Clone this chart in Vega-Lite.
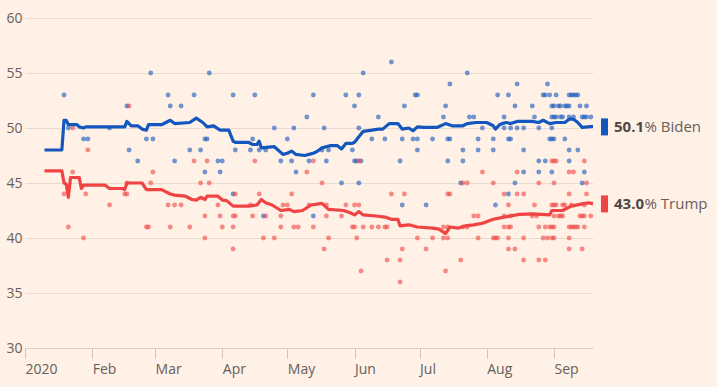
{
  "$schema": "https://vega.github.io/schema/vega-lite/v6.json",
  "width": 568,
  "height": 330,
  "autosize": {"type": "none"},
  "padding": {"left": 25, "top": 18, "right": 124, "bottom": 39},
  "background": "#FFF1E5",
  "config": {
    "view": {"stroke": null},
    "font": "Open Sans",
    "axis": {"labelFont": "Open Sans", "labelFontSize": 14, "labelColor": "#66605c", "gridColor": "#e8dbcf", "domain": false, "ticks": false, "title": null}
  },
  "datasets": {
    "polls": [
      {"date":"2020-01-19","candidate":"Biden","value":53},{"date":"2020-01-21","candidate":"Biden","value":50},{"date":"2020-02-09","candidate":"Biden","value":50},{"date":"2020-01-28","candidate":"Biden","value":49},{"date":"2020-01-30","candidate":"Biden","value":49},
      {"date":"2020-02-28","candidate":"Biden","value":55},{"date":"2020-03-26","candidate":"Biden","value":55},{"date":"2020-03-07","candidate":"Biden","value":53},{"date":"2020-03-19","candidate":"Biden","value":53},{"date":"2020-02-17","candidate":"Biden","value":52},
      {"date":"2020-03-08","candidate":"Biden","value":52},{"date":"2020-03-13","candidate":"Biden","value":52},{"date":"2020-02-26","candidate":"Biden","value":49},{"date":"2020-02-29","candidate":"Biden","value":49},{"date":"2020-03-24","candidate":"Biden","value":49},
      {"date":"2020-03-25","candidate":"Biden","value":49},{"date":"2020-02-18","candidate":"Biden","value":48},{"date":"2020-03-17","candidate":"Biden","value":48},{"date":"2020-03-22","candidate":"Biden","value":48},{"date":"2020-02-22","candidate":"Biden","value":47},
      {"date":"2020-03-10","candidate":"Biden","value":47},{"date":"2020-03-30","candidate":"Biden","value":47},{"date":"2020-03-24","candidate":"Biden","value":46},{"date":"2020-03-31","candidate":"Biden","value":46},{"date":"2020-04-06","candidate":"Biden","value":53},
      {"date":"2020-04-16","candidate":"Biden","value":53},{"date":"2020-05-13","candidate":"Biden","value":53},{"date":"2020-05-10","candidate":"Biden","value":51},{"date":"2020-04-25","candidate":"Biden","value":50},{"date":"2020-05-04","candidate":"Biden","value":50},
      {"date":"2020-04-15","candidate":"Biden","value":49},{"date":"2020-05-01","candidate":"Biden","value":49},{"date":"2020-04-07","candidate":"Biden","value":48},{"date":"2020-04-14","candidate":"Biden","value":48},{"date":"2020-04-18","candidate":"Biden","value":48},
      {"date":"2020-04-21","candidate":"Biden","value":48},{"date":"2020-04-01","candidate":"Biden","value":47},{"date":"2020-04-28","candidate":"Biden","value":47},{"date":"2020-05-03","candidate":"Biden","value":47},{"date":"2020-05-05","candidate":"Biden","value":46},
      {"date":"2020-04-06","candidate":"Biden","value":44},{"date":"2020-04-20","candidate":"Biden","value":42},{"date":"2020-06-18","candidate":"Biden","value":56},{"date":"2020-06-05","candidate":"Biden","value":55},{"date":"2020-05-28","candidate":"Biden","value":53},
      {"date":"2020-06-03","candidate":"Biden","value":53},{"date":"2020-06-01","candidate":"Biden","value":52},{"date":"2020-06-24","candidate":"Biden","value":52},{"date":"2020-06-12","candidate":"Biden","value":51},{"date":"2020-05-18","candidate":"Biden","value":50},
      {"date":"2020-06-03","candidate":"Biden","value":50},{"date":"2020-06-09","candidate":"Biden","value":49},{"date":"2020-06-15","candidate":"Biden","value":49},{"date":"2020-06-23","candidate":"Biden","value":49},{"date":"2020-05-17","candidate":"Biden","value":48},
      {"date":"2020-05-20","candidate":"Biden","value":48},{"date":"2020-05-31","candidate":"Biden","value":48},{"date":"2020-05-11","candidate":"Biden","value":47},{"date":"2020-05-19","candidate":"Biden","value":47},{"date":"2020-06-01","candidate":"Biden","value":47},
      {"date":"2020-06-02","candidate":"Biden","value":47},{"date":"2020-06-04","candidate":"Biden","value":47},{"date":"2020-06-22","candidate":"Biden","value":47},{"date":"2020-05-26","candidate":"Biden","value":45},{"date":"2020-06-03","candidate":"Biden","value":45},
      {"date":"2020-06-23","candidate":"Biden","value":43},{"date":"2020-05-13","candidate":"Biden","value":42},{"date":"2020-07-23","candidate":"Biden","value":55},{"date":"2020-07-15","candidate":"Biden","value":54},{"date":"2020-06-29","candidate":"Biden","value":53},
      {"date":"2020-06-30","candidate":"Biden","value":53},{"date":"2020-08-06","candidate":"Biden","value":53},{"date":"2020-07-13","candidate":"Biden","value":52},{"date":"2020-07-12","candidate":"Biden","value":51},{"date":"2020-07-24","candidate":"Biden","value":51},
      {"date":"2020-07-26","candidate":"Biden","value":51},{"date":"2020-07-30","candidate":"Biden","value":50},{"date":"2020-06-28","candidate":"Biden","value":49},{"date":"2020-06-30","candidate":"Biden","value":49},{"date":"2020-07-07","candidate":"Biden","value":49},
      {"date":"2020-07-14","candidate":"Biden","value":49},{"date":"2020-07-15","candidate":"Biden","value":49},{"date":"2020-07-28","candidate":"Biden","value":49},{"date":"2020-08-04","candidate":"Biden","value":49},{"date":"2020-06-30","candidate":"Biden","value":48},
      {"date":"2020-07-21","candidate":"Biden","value":48},{"date":"2020-07-28","candidate":"Biden","value":48},{"date":"2020-08-04","candidate":"Biden","value":48},{"date":"2020-07-14","candidate":"Biden","value":47},{"date":"2020-07-21","candidate":"Biden","value":47},
      {"date":"2020-07-20","candidate":"Biden","value":45},{"date":"2020-07-04","candidate":"Biden","value":43},{"date":"2020-08-05","candidate":"Biden","value":43},{"date":"2020-08-15","candidate":"Biden","value":54},{"date":"2020-08-29","candidate":"Biden","value":54},
      {"date":"2020-08-11","candidate":"Biden","value":53},{"date":"2020-08-27","candidate":"Biden","value":53},{"date":"2020-08-28","candidate":"Biden","value":53},{"date":"2020-08-30","candidate":"Biden","value":53},{"date":"2020-09-02","candidate":"Biden","value":53},
      {"date":"2020-09-08","candidate":"Biden","value":53},{"date":"2020-09-09","candidate":"Biden","value":53},{"date":"2020-09-10","candidate":"Biden","value":53},{"date":"2020-09-11","candidate":"Biden","value":53},{"date":"2020-09-12","candidate":"Biden","value":53},
      {"date":"2020-08-14","candidate":"Biden","value":52},{"date":"2020-08-22","candidate":"Biden","value":52},{"date":"2020-08-31","candidate":"Biden","value":52},{"date":"2020-09-01","candidate":"Biden","value":52},{"date":"2020-09-03","candidate":"Biden","value":52},
      {"date":"2020-09-04","candidate":"Biden","value":52},{"date":"2020-09-06","candidate":"Biden","value":52},{"date":"2020-09-07","candidate":"Biden","value":52},{"date":"2020-09-08","candidate":"Biden","value":52},{"date":"2020-09-13","candidate":"Biden","value":52},
      {"date":"2020-09-16","candidate":"Biden","value":52},{"date":"2020-08-09","candidate":"Biden","value":51},{"date":"2020-08-23","candidate":"Biden","value":51},{"date":"2020-08-31","candidate":"Biden","value":51},{"date":"2020-09-01","candidate":"Biden","value":51},
      {"date":"2020-09-02","candidate":"Biden","value":51},{"date":"2020-09-04","candidate":"Biden","value":51},{"date":"2020-09-05","candidate":"Biden","value":51},{"date":"2020-09-08","candidate":"Biden","value":51},{"date":"2020-09-10","candidate":"Biden","value":51},
      {"date":"2020-09-14","candidate":"Biden","value":51},{"date":"2020-09-15","candidate":"Biden","value":51},{"date":"2020-09-16","candidate":"Biden","value":51},{"date":"2020-09-18","candidate":"Biden","value":51},{"date":"2020-08-09","candidate":"Biden","value":50},
      {"date":"2020-08-12","candidate":"Biden","value":50},{"date":"2020-08-15","candidate":"Biden","value":50},{"date":"2020-08-18","candidate":"Biden","value":50},{"date":"2020-08-25","candidate":"Biden","value":50},{"date":"2020-08-31","candidate":"Biden","value":50},
      {"date":"2020-08-11","candidate":"Biden","value":49},{"date":"2020-08-12","candidate":"Biden","value":49},{"date":"2020-08-30","candidate":"Biden","value":49},{"date":"2020-08-31","candidate":"Biden","value":49},{"date":"2020-09-01","candidate":"Biden","value":49},
      {"date":"2020-09-06","candidate":"Biden","value":49},{"date":"2020-08-18","candidate":"Biden","value":48},{"date":"2020-09-08","candidate":"Biden","value":48},{"date":"2020-09-12","candidate":"Biden","value":48},{"date":"2020-08-25","candidate":"Biden","value":47},
      {"date":"2020-08-28","candidate":"Biden","value":47},{"date":"2020-09-08","candidate":"Biden","value":47},{"date":"2020-08-18","candidate":"Biden","value":46},{"date":"2020-08-25","candidate":"Biden","value":46},{"date":"2020-08-31","candidate":"Biden","value":46},
      {"date":"2020-09-15","candidate":"Biden","value":46},{"date":"2020-08-14","candidate":"Biden","value":45},{"date":"2020-09-14","candidate":"Biden","value":45},{"date":"2020-08-11","candidate":"Biden","value":44},
      {"date":"2020-01-23","candidate":"Trump","value":50},{"date":"2020-01-30","candidate":"Trump","value":48},{"date":"2020-01-23","candidate":"Trump","value":46},{"date":"2020-01-19","candidate":"Trump","value":44},{"date":"2020-01-29","candidate":"Trump","value":44},
      {"date":"2020-02-09","candidate":"Trump","value":43},{"date":"2020-01-21","candidate":"Trump","value":41},{"date":"2020-01-28","candidate":"Trump","value":40},{"date":"2020-02-18","candidate":"Trump","value":52},{"date":"2020-03-19","candidate":"Trump","value":47},
      {"date":"2020-03-25","candidate":"Trump","value":47},{"date":"2020-02-29","candidate":"Trump","value":46},{"date":"2020-02-17","candidate":"Trump","value":45},{"date":"2020-02-28","candidate":"Trump","value":45},{"date":"2020-03-22","candidate":"Trump","value":45},
      {"date":"2020-03-26","candidate":"Trump","value":45},{"date":"2020-02-16","candidate":"Trump","value":44},{"date":"2020-02-17","candidate":"Trump","value":44},{"date":"2020-03-07","candidate":"Trump","value":43},{"date":"2020-03-10","candidate":"Trump","value":43},
      {"date":"2020-03-13","candidate":"Trump","value":43},{"date":"2020-03-24","candidate":"Trump","value":42},{"date":"2020-02-26","candidate":"Trump","value":41},{"date":"2020-02-27","candidate":"Trump","value":41},{"date":"2020-03-08","candidate":"Trump","value":41},
      {"date":"2020-03-17","candidate":"Trump","value":41},{"date":"2020-03-24","candidate":"Trump","value":40},{"date":"2020-04-16","candidate":"Trump","value":47},{"date":"2020-05-10","candidate":"Trump","value":46},{"date":"2020-04-07","candidate":"Trump","value":44},
      {"date":"2020-04-18","candidate":"Trump","value":44},{"date":"2020-05-03","candidate":"Trump","value":44},{"date":"2020-03-30","candidate":"Trump","value":43},{"date":"2020-04-14","candidate":"Trump","value":43},{"date":"2020-04-29","candidate":"Trump","value":43},
      {"date":"2020-05-01","candidate":"Trump","value":43},{"date":"2020-03-31","candidate":"Trump","value":42},{"date":"2020-04-06","candidate":"Trump","value":42},{"date":"2020-04-07","candidate":"Trump","value":42},{"date":"2020-04-15","candidate":"Trump","value":42},
      {"date":"2020-04-21","candidate":"Trump","value":42},{"date":"2020-04-28","candidate":"Trump","value":42},{"date":"2020-04-01","candidate":"Trump","value":41},{"date":"2020-04-06","candidate":"Trump","value":41},{"date":"2020-04-28","candidate":"Trump","value":41},
      {"date":"2020-05-04","candidate":"Trump","value":41},{"date":"2020-05-06","candidate":"Trump","value":41},{"date":"2020-04-20","candidate":"Trump","value":40},{"date":"2020-04-25","candidate":"Trump","value":40},{"date":"2020-04-06","candidate":"Trump","value":39},
      {"date":"2020-05-13","candidate":"Trump","value":47},{"date":"2020-06-03","candidate":"Trump","value":47},{"date":"2020-05-17","candidate":"Trump","value":45},{"date":"2020-06-18","candidate":"Trump","value":44},{"date":"2020-06-24","candidate":"Trump","value":44},
      {"date":"2020-05-11","candidate":"Trump","value":43},{"date":"2020-05-19","candidate":"Trump","value":43},{"date":"2020-05-28","candidate":"Trump","value":43},{"date":"2020-06-01","candidate":"Trump","value":43},{"date":"2020-06-03","candidate":"Trump","value":43},
      {"date":"2020-05-19","candidate":"Trump","value":42},{"date":"2020-05-26","candidate":"Trump","value":42},{"date":"2020-05-13","candidate":"Trump","value":41},{"date":"2020-05-31","candidate":"Trump","value":41},{"date":"2020-06-01","candidate":"Trump","value":41},
      {"date":"2020-06-05","candidate":"Trump","value":41},{"date":"2020-06-09","candidate":"Trump","value":41},{"date":"2020-06-12","candidate":"Trump","value":41},{"date":"2020-06-15","candidate":"Trump","value":41},{"date":"2020-06-16","candidate":"Trump","value":41},
      {"date":"2020-05-20","candidate":"Trump","value":40},{"date":"2020-06-02","candidate":"Trump","value":40},{"date":"2020-05-18","candidate":"Trump","value":39},{"date":"2020-06-23","candidate":"Trump","value":39},{"date":"2020-06-16","candidate":"Trump","value":38},
      {"date":"2020-06-22","candidate":"Trump","value":38},{"date":"2020-06-04","candidate":"Trump","value":37},{"date":"2020-06-22","candidate":"Trump","value":36},{"date":"2020-07-30","candidate":"Trump","value":46},{"date":"2020-07-21","candidate":"Trump","value":45},
      {"date":"2020-07-23","candidate":"Trump","value":45},{"date":"2020-08-04","candidate":"Trump","value":45},{"date":"2020-07-14","candidate":"Trump","value":44},{"date":"2020-07-15","candidate":"Trump","value":44},{"date":"2020-08-09","candidate":"Trump","value":44},
      {"date":"2020-07-26","candidate":"Trump","value":42},{"date":"2020-07-28","candidate":"Trump","value":42},{"date":"2020-07-12","candidate":"Trump","value":41},{"date":"2020-07-14","candidate":"Trump","value":41},{"date":"2020-07-21","candidate":"Trump","value":41},
      {"date":"2020-07-23","candidate":"Trump","value":41},{"date":"2020-08-09","candidate":"Trump","value":41},{"date":"2020-06-30","candidate":"Trump","value":40},{"date":"2020-07-07","candidate":"Trump","value":40},{"date":"2020-07-12","candidate":"Trump","value":40},
      {"date":"2020-07-14","candidate":"Trump","value":40},{"date":"2020-07-28","candidate":"Trump","value":40},{"date":"2020-08-04","candidate":"Trump","value":40},{"date":"2020-08-05","candidate":"Trump","value":40},{"date":"2020-08-06","candidate":"Trump","value":40},
      {"date":"2020-07-04","candidate":"Trump","value":39},{"date":"2020-07-20","candidate":"Trump","value":38},{"date":"2020-07-13","candidate":"Trump","value":37},{"date":"2020-08-31","candidate":"Trump","value":47},{"date":"2020-09-01","candidate":"Trump","value":47},
      {"date":"2020-09-02","candidate":"Trump","value":47},{"date":"2020-09-15","candidate":"Trump","value":47},{"date":"2020-08-15","candidate":"Trump","value":46},{"date":"2020-09-08","candidate":"Trump","value":46},{"date":"2020-09-10","candidate":"Trump","value":46},
      {"date":"2020-08-25","candidate":"Trump","value":45},{"date":"2020-09-01","candidate":"Trump","value":45},{"date":"2020-09-16","candidate":"Trump","value":45},{"date":"2020-08-15","candidate":"Trump","value":44},{"date":"2020-08-18","candidate":"Trump","value":44},
      {"date":"2020-09-08","candidate":"Trump","value":44},{"date":"2020-09-16","candidate":"Trump","value":44},{"date":"2020-08-11","candidate":"Trump","value":43},{"date":"2020-08-23","candidate":"Trump","value":43},{"date":"2020-08-31","candidate":"Trump","value":43},
      {"date":"2020-09-01","candidate":"Trump","value":43},{"date":"2020-09-02","candidate":"Trump","value":43},{"date":"2020-09-05","candidate":"Trump","value":43},{"date":"2020-09-06","candidate":"Trump","value":43},{"date":"2020-09-09","candidate":"Trump","value":43},
      {"date":"2020-09-15","candidate":"Trump","value":43},{"date":"2020-08-09","candidate":"Trump","value":42},{"date":"2020-08-12","candidate":"Trump","value":42},{"date":"2020-08-22","candidate":"Trump","value":42},{"date":"2020-08-24","candidate":"Trump","value":42},
      {"date":"2020-09-01","candidate":"Trump","value":42},{"date":"2020-09-03","candidate":"Trump","value":42},{"date":"2020-09-04","candidate":"Trump","value":42},{"date":"2020-09-05","candidate":"Trump","value":42},{"date":"2020-09-13","candidate":"Trump","value":42},
      {"date":"2020-09-14","candidate":"Trump","value":42},{"date":"2020-09-15","candidate":"Trump","value":42},{"date":"2020-09-18","candidate":"Trump","value":42},{"date":"2020-08-11","candidate":"Trump","value":41},{"date":"2020-08-12","candidate":"Trump","value":41},
      {"date":"2020-08-25","candidate":"Trump","value":41},{"date":"2020-08-28","candidate":"Trump","value":41},{"date":"2020-08-30","candidate":"Trump","value":41},{"date":"2020-08-31","candidate":"Trump","value":41},{"date":"2020-09-01","candidate":"Trump","value":41},
      {"date":"2020-09-08","candidate":"Trump","value":41},{"date":"2020-09-09","candidate":"Trump","value":41},{"date":"2020-09-10","candidate":"Trump","value":41},{"date":"2020-09-11","candidate":"Trump","value":41},{"date":"2020-09-12","candidate":"Trump","value":41},
      {"date":"2020-09-15","candidate":"Trump","value":41},{"date":"2020-08-11","candidate":"Trump","value":40},{"date":"2020-08-18","candidate":"Trump","value":40},{"date":"2020-08-27","candidate":"Trump","value":40},{"date":"2020-08-29","candidate":"Trump","value":40},
      {"date":"2020-08-31","candidate":"Trump","value":40},{"date":"2020-09-01","candidate":"Trump","value":40},{"date":"2020-09-08","candidate":"Trump","value":40},{"date":"2020-08-11","candidate":"Trump","value":39},{"date":"2020-08-14","candidate":"Trump","value":39},
      {"date":"2020-09-08","candidate":"Trump","value":39},{"date":"2020-09-14","candidate":"Trump","value":39},{"date":"2020-08-18","candidate":"Trump","value":38},{"date":"2020-08-25","candidate":"Trump","value":38},{"date":"2020-08-28","candidate":"Trump","value":38}
    ],
    "avg": [
      {"date":"2020-01-10","candidate":"Biden","value":48.0},{"date":"2020-01-18","candidate":"Biden","value":48.0},{"date":"2020-01-19","candidate":"Biden","value":50.7},{"date":"2020-01-20","candidate":"Biden","value":50.7},{"date":"2020-01-21","candidate":"Biden","value":50.3},
      {"date":"2020-01-25","candidate":"Biden","value":50.3},{"date":"2020-01-26","candidate":"Biden","value":50.1},{"date":"2020-01-28","candidate":"Biden","value":50.0},{"date":"2020-01-29","candidate":"Biden","value":50.1},{"date":"2020-02-16","candidate":"Biden","value":50.1},
      {"date":"2020-02-17","candidate":"Biden","value":50.6},{"date":"2020-02-19","candidate":"Biden","value":50.2},{"date":"2020-02-22","candidate":"Biden","value":50.2},{"date":"2020-02-24","candidate":"Biden","value":49.9},{"date":"2020-02-26","candidate":"Biden","value":49.8},
      {"date":"2020-02-27","candidate":"Biden","value":50.3},{"date":"2020-03-04","candidate":"Biden","value":50.3},{"date":"2020-03-08","candidate":"Biden","value":50.7},{"date":"2020-03-10","candidate":"Biden","value":50.4},{"date":"2020-03-17","candidate":"Biden","value":50.5},
      {"date":"2020-03-20","candidate":"Biden","value":50.9},{"date":"2020-03-23","candidate":"Biden","value":50.5},{"date":"2020-03-25","candidate":"Biden","value":50.1},{"date":"2020-03-28","candidate":"Biden","value":50.2},{"date":"2020-03-31","candidate":"Biden","value":49.8},
      {"date":"2020-04-04","candidate":"Biden","value":49.8},{"date":"2020-04-06","candidate":"Biden","value":48.8},{"date":"2020-04-07","candidate":"Biden","value":48.7},{"date":"2020-04-13","candidate":"Biden","value":48.7},{"date":"2020-04-15","candidate":"Biden","value":48.5},
      {"date":"2020-04-17","candidate":"Biden","value":48.5},{"date":"2020-04-18","candidate":"Biden","value":48.8},{"date":"2020-04-19","candidate":"Biden","value":48.2},{"date":"2020-04-25","candidate":"Biden","value":48.3},{"date":"2020-04-29","candidate":"Biden","value":47.6},
      {"date":"2020-05-01","candidate":"Biden","value":47.7},{"date":"2020-05-03","candidate":"Biden","value":47.9},{"date":"2020-05-05","candidate":"Biden","value":47.6},{"date":"2020-05-09","candidate":"Biden","value":47.5},{"date":"2020-05-11","candidate":"Biden","value":47.6},
      {"date":"2020-05-13","candidate":"Biden","value":47.7},{"date":"2020-05-15","candidate":"Biden","value":47.9},{"date":"2020-05-17","candidate":"Biden","value":48.2},{"date":"2020-05-21","candidate":"Biden","value":48.4},{"date":"2020-05-24","candidate":"Biden","value":48.4},
      {"date":"2020-05-26","candidate":"Biden","value":48.1},{"date":"2020-05-28","candidate":"Biden","value":48.6},{"date":"2020-05-31","candidate":"Biden","value":48.6},{"date":"2020-06-01","candidate":"Biden","value":48.7},{"date":"2020-06-05","candidate":"Biden","value":49.7},
      {"date":"2020-06-09","candidate":"Biden","value":49.8},{"date":"2020-06-12","candidate":"Biden","value":49.9},{"date":"2020-06-14","candidate":"Biden","value":49.9},{"date":"2020-06-17","candidate":"Biden","value":50.4},{"date":"2020-06-21","candidate":"Biden","value":50.4},
      {"date":"2020-06-23","candidate":"Biden","value":49.9},{"date":"2020-06-26","candidate":"Biden","value":50.0},{"date":"2020-06-28","candidate":"Biden","value":49.75},{"date":"2020-06-30","candidate":"Biden","value":50.1},{"date":"2020-07-03","candidate":"Biden","value":50.05},
      {"date":"2020-07-09","candidate":"Biden","value":50.05},{"date":"2020-07-13","candidate":"Biden","value":50.4},{"date":"2020-07-16","candidate":"Biden","value":50.2},{"date":"2020-07-21","candidate":"Biden","value":50.2},{"date":"2020-07-23","candidate":"Biden","value":50.4},
      {"date":"2020-07-27","candidate":"Biden","value":50.5},{"date":"2020-08-01","candidate":"Biden","value":50.5},{"date":"2020-08-04","candidate":"Biden","value":50.2},{"date":"2020-08-05","candidate":"Biden","value":49.9},{"date":"2020-08-07","candidate":"Biden","value":50.3},
      {"date":"2020-08-08","candidate":"Biden","value":50.4},{"date":"2020-08-10","candidate":"Biden","value":50.5},{"date":"2020-08-12","candidate":"Biden","value":50.4},{"date":"2020-08-15","candidate":"Biden","value":50.6},{"date":"2020-08-22","candidate":"Biden","value":50.6},
      {"date":"2020-08-25","candidate":"Biden","value":50.5},{"date":"2020-08-27","candidate":"Biden","value":50.7},{"date":"2020-08-30","candidate":"Biden","value":50.4},{"date":"2020-09-02","candidate":"Biden","value":50.5},{"date":"2020-09-06","candidate":"Biden","value":50.5},
      {"date":"2020-09-08","candidate":"Biden","value":50.8},{"date":"2020-09-10","candidate":"Biden","value":50.8},{"date":"2020-09-12","candidate":"Biden","value":50.5},{"date":"2020-09-14","candidate":"Biden","value":50.06},{"date":"2020-09-19","candidate":"Biden","value":50.15},
      {"date":"2020-01-10","candidate":"Trump","value":46.1},{"date":"2020-01-18","candidate":"Trump","value":46.1},{"date":"2020-01-19","candidate":"Trump","value":45.0},{"date":"2020-01-20","candidate":"Trump","value":44.9},{"date":"2020-01-21","candidate":"Trump","value":43.7},
      {"date":"2020-01-22","candidate":"Trump","value":45.5},{"date":"2020-01-26","candidate":"Trump","value":45.5},{"date":"2020-01-27","candidate":"Trump","value":44.5},{"date":"2020-01-28","candidate":"Trump","value":44.8},{"date":"2020-02-07","candidate":"Trump","value":44.8},
      {"date":"2020-02-09","candidate":"Trump","value":44.5},{"date":"2020-02-15","candidate":"Trump","value":44.5},{"date":"2020-02-16","candidate":"Trump","value":44.4},{"date":"2020-02-17","candidate":"Trump","value":45.0},{"date":"2020-02-24","candidate":"Trump","value":45.0},
      {"date":"2020-02-26","candidate":"Trump","value":44.4},{"date":"2020-03-04","candidate":"Trump","value":44.4},{"date":"2020-03-08","candidate":"Trump","value":44.0},{"date":"2020-03-10","candidate":"Trump","value":43.9},{"date":"2020-03-15","candidate":"Trump","value":43.8},
      {"date":"2020-03-18","candidate":"Trump","value":43.5},{"date":"2020-03-20","candidate":"Trump","value":43.45},{"date":"2020-03-22","candidate":"Trump","value":43.7},{"date":"2020-03-24","candidate":"Trump","value":43.5},{"date":"2020-03-25","candidate":"Trump","value":43.8},
      {"date":"2020-03-30","candidate":"Trump","value":43.8},{"date":"2020-04-01","candidate":"Trump","value":43.45},{"date":"2020-04-03","candidate":"Trump","value":43.4},{"date":"2020-04-06","candidate":"Trump","value":42.9},{"date":"2020-04-13","candidate":"Trump","value":42.9},
      {"date":"2020-04-17","candidate":"Trump","value":43.0},{"date":"2020-04-19","candidate":"Trump","value":43.5},{"date":"2020-04-21","candidate":"Trump","value":43.2},{"date":"2020-04-24","candidate":"Trump","value":43.0},{"date":"2020-04-28","candidate":"Trump","value":42.5},
      {"date":"2020-05-02","candidate":"Trump","value":42.6},{"date":"2020-05-04","candidate":"Trump","value":42.4},{"date":"2020-05-08","candidate":"Trump","value":42.5},{"date":"2020-05-12","candidate":"Trump","value":43.0},{"date":"2020-05-17","candidate":"Trump","value":43.15},
      {"date":"2020-05-20","candidate":"Trump","value":42.6},{"date":"2020-05-27","candidate":"Trump","value":42.5},{"date":"2020-05-30","candidate":"Trump","value":42.3},{"date":"2020-06-01","candidate":"Trump","value":42.1},{"date":"2020-06-03","candidate":"Trump","value":42.4},
      {"date":"2020-06-05","candidate":"Trump","value":42.1},{"date":"2020-06-11","candidate":"Trump","value":42.0},{"date":"2020-06-15","candidate":"Trump","value":41.9},{"date":"2020-06-18","candidate":"Trump","value":41.7},{"date":"2020-06-21","candidate":"Trump","value":41.7},
      {"date":"2020-06-22","candidate":"Trump","value":41.1},{"date":"2020-06-26","candidate":"Trump","value":41.2},{"date":"2020-06-30","candidate":"Trump","value":41.0},{"date":"2020-07-07","candidate":"Trump","value":40.9},{"date":"2020-07-10","candidate":"Trump","value":40.8},
      {"date":"2020-07-13","candidate":"Trump","value":40.4},{"date":"2020-07-15","candidate":"Trump","value":41.0},{"date":"2020-07-19","candidate":"Trump","value":40.9},{"date":"2020-07-22","candidate":"Trump","value":41.1},{"date":"2020-07-26","candidate":"Trump","value":41.2},
      {"date":"2020-07-29","candidate":"Trump","value":41.3},{"date":"2020-07-31","candidate":"Trump","value":41.4},{"date":"2020-08-04","candidate":"Trump","value":41.7},{"date":"2020-08-09","candidate":"Trump","value":41.9},{"date":"2020-08-16","candidate":"Trump","value":42.15},
      {"date":"2020-08-22","candidate":"Trump","value":42.2},{"date":"2020-08-26","candidate":"Trump","value":42.15},{"date":"2020-08-30","candidate":"Trump","value":42.1},{"date":"2020-08-31","candidate":"Trump","value":42.5},{"date":"2020-09-05","candidate":"Trump","value":42.5},
      {"date":"2020-09-07","candidate":"Trump","value":42.7},{"date":"2020-09-09","candidate":"Trump","value":42.9},{"date":"2020-09-14","candidate":"Trump","value":43.1},{"date":"2020-09-17","candidate":"Trump","value":43.2},{"date":"2020-09-19","candidate":"Trump","value":43.1}
    ],
    "labels": [
      {"date":"2020-09-19","candidate":"Biden","value":50.1,"num":"50.1"},
      {"date":"2020-09-19","candidate":"Trump","value":43.1,"num":"43.0"}
    ]
  },
  "encoding": {
    "x": {
      "field": "date", "type": "temporal",
      "scale": {"type": "utc", "domain": [{"year": 2020, "month": 1, "date": 1, "utc": true}, {"year": 2020, "month": 9, "date": 19, "utc": true}]},
      "axis": {
        "title": null, "grid": false, "domain": true, "domainColor": "#dccfc3", "ticks": true, "tickSize": 10, "tickColor": "#cfc3b8",
        "labelAlign": "left", "labelBaseline": "top", "labelPadding": 4, "labelFlush": false,
        "values": [
          {"year": 2020, "month": 1, "date": 1, "utc": true}, {"year": 2020, "month": 2, "date": 1, "utc": true}, {"year": 2020, "month": 3, "date": 1, "utc": true},
          {"year": 2020, "month": 4, "date": 1, "utc": true}, {"year": 2020, "month": 5, "date": 1, "utc": true}, {"year": 2020, "month": 6, "date": 1, "utc": true},
          {"year": 2020, "month": 7, "date": 1, "utc": true}, {"year": 2020, "month": 8, "date": 1, "utc": true}, {"year": 2020, "month": 9, "date": 1, "utc": true}
        ],
        "labelExpr": "utcFormat(datum.value, '%m') == '01' ? utcFormat(datum.value, '%Y') : utcFormat(datum.value, '%b')"
      }
    },
    "y": {
      "field": "value", "type": "quantitative",
      "scale": {"domain": [30, 60], "nice": false, "zero": false},
      "axis": {"title": null, "values": [30, 35, 40, 45, 50, 55, 60], "grid": true, "labelPadding": 3}
    },
    "color": {"field": "candidate", "type": "nominal", "scale": {"domain": ["Biden", "Trump"], "range": ["#1357be", "#f04444"]}, "legend": null}
  },
  "layer": [
    {"data": {"name": "polls"}, "mark": {"type": "circle", "size": 24, "opacity": 0.6}},
    {"data": {"name": "avg"}, "mark": {"type": "line", "strokeWidth": 3.2, "strokeJoin": "round"}},
    {"data": {"name": "labels"}, "mark": {"type": "tick", "orient": "vertical", "size": 17, "thickness": 7, "xOffset": 11.5, "opacity": 1}},
    {"data": {"name": "labels"}, "mark": {"type": "text", "align": "left", "baseline": "middle", "dx": 21, "fontSize": 15, "fontWeight": "bold", "font": "Open Sans"},
     "encoding": {"text": {"field": "num"}, "color": {"value": "#4d4845"}}},
    {"data": {"name": "labels"}, "transform": [{"calculate": "'% ' + datum.candidate", "as": "tail"}],
     "mark": {"type": "text", "align": "left", "baseline": "middle", "dx": 51.5, "fontSize": 15, "font": "Open Sans"},
     "encoding": {"text": {"field": "tail"}, "color": {"value": "#66605c"}}}
  ]
}
